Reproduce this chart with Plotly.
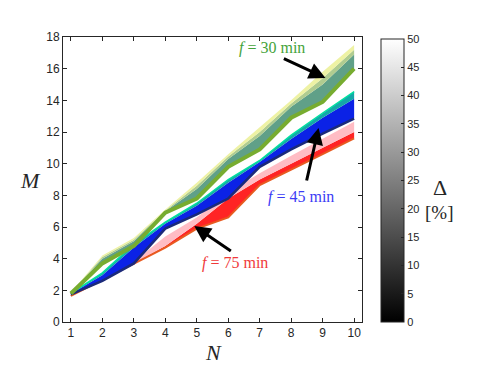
import plotly.graph_objects as go

# data
N = [1, 2, 3, 4, 5, 6, 7, 8, 9, 10]

# f = 75 min band
red_lo = [1.65, 2.65, 3.65, 4.7, 5.9, 6.6, 8.65, 9.6, 10.6, 11.6]
red_mid = [1.7, 2.7, 3.7, 4.8, 6.2, 7.8, 9.0, 10.0, 11.0, 12.0]
red_hi = [1.75, 2.75, 3.8, 5.4, 6.6, 8.2, 9.4, 10.5, 11.6, 12.65]

# f = 45 min band
blue_lo = [1.75, 2.6, 3.7, 5.9, 6.8, 7.8, 9.8, 10.9, 11.9, 12.85]
blue_mid = [1.78, 2.95, 4.7, 6.2, 7.35, 8.8, 10.1, 11.55, 12.9, 14.1]
blue_hi = [1.8, 3.1, 4.9, 6.3, 7.5, 9.0, 10.2, 11.8, 13.2, 14.55]

# f = 30 min band
green_lo = [1.8, 3.7, 4.8, 6.9, 7.8, 9.8, 10.9, 12.9, 13.9, 16.0]
green_m1 = [1.82, 4.0, 5.1, 7.0, 8.4, 10.3, 11.75, 13.6, 15.0, 16.9]
green_m2 = [1.84, 4.1, 5.2, 7.05, 8.6, 10.45, 12.0, 13.8, 15.4, 17.2]
green_hi = [1.85, 4.2, 5.3, 7.1, 8.8, 10.6, 12.3, 14.0, 15.8, 17.5]

delta_range = [0, 50]
cbar_ticks = [0, 5, 10, 15, 20, 25, 30, 35, 40, 45, 50]

fig = go.Figure()


def band(lo, hi, color):
    # filled polygon between two edges
    fig.add_trace(go.Scatter(
        x=N + N[::-1], y=lo + hi[::-1], fill='toself', fillcolor=color,
        mode='lines', line=dict(width=0, color=color),
        hoverinfo='skip', showlegend=False))


def edge(y, color, width):
    fig.add_trace(go.Scatter(x=N, y=y, mode='lines',
                             line=dict(color=color, width=width),
                             hoverinfo='skip', showlegend=False))


band(red_lo, red_mid, '#ff2424')
band(red_mid, red_hi, '#ffbcc4')
edge(red_lo, '#e85a20', 2)

band(blue_lo, blue_mid, '#0b22e6')
band(blue_mid, blue_hi, '#14a8a8')
edge(blue_hi, '#00e0a0', 1.5)
edge(blue_lo, '#1b2a7a', 2.5)

band(green_lo, green_m1, '#60a088')
band(green_m1, green_m2, '#b0cc90')
band(green_m2, green_hi, '#eef2a4')
edge(green_lo, '#77ac30', 4)

# dummy trace for the colour bar
fig.add_trace(go.Scatter(
    x=[None], y=[None], mode='markers', showlegend=False, hoverinfo='skip',
    marker=dict(color=[0], cmin=delta_range[0], cmax=delta_range[1],
                colorscale=[[0, 'black'], [1, 'white']], showscale=True,
                colorbar=dict(x=1.0635, xanchor='left', xpad=0, y=0.4965,
                              yanchor='middle', ypad=0, len=0.993,
                              thickness=23, outlinewidth=1,
                              outlinecolor='#262626', ticks='inside',
                              ticklen=3, tickcolor='#262626',
                              tickvals=cbar_ticks,
                              tickfont=dict(family='Liberation Sans',
                                            size=11, color='#262626')))))

serif = 'Liberation Serif'
ann = []
# arrows
for tail, head in [((7.72, 16.68), (9.09, 15.41)),
                   ((8.48, 8.84), (8.87, 12.25)),
                   ((6.13, 4.42), (4.92, 6.06))]:
    ann.append(dict(x=head[0], y=head[1], ax=tail[0], ay=tail[1],
                    xref='x', yref='y', axref='x', ayref='y', text='',
                    showarrow=True, arrowhead=2, arrowsize=1.1,
                    arrowwidth=3, arrowcolor='black'))
# labels
ann.append(dict(x=7.4, y=17.3, xref='x', yref='y', showarrow=False,
                text='<i>f</i> = 30 min',
                font=dict(family=serif, size=16, color='#44a33a')))
ann.append(dict(x=8.3, y=7.9, xref='x', yref='y', showarrow=False,
                text='<i>f</i> = 45 min',
                font=dict(family=serif, size=16, color='#3b3bf5')))
ann.append(dict(x=6.2, y=3.7, xref='x', yref='y', showarrow=False,
                text='<i>f</i> = 75 min',
                font=dict(family=serif, size=16, color='#f03a3a')))


def paper_text(px, py, text, size):
    # place a text by its centre, given in page pixels
    ann.append(dict(x=(px - 63) / 299, y=(322 - py) / 285, xref='paper',
                    yref='paper', xanchor='center', yanchor='middle',
                    showarrow=False, text=text,
                    font=dict(family=serif, size=size, color='#262626')))


paper_text(213, 353, '<i>N</i>', 22)
paper_text(30, 180, '<i>M</i>', 22)
paper_text(440, 187, 'Δ', 22)
paper_text(439, 212, '[%]', 19)

axis_font = dict(family='Liberation Sans', size=12, color='#262626')
fig.update_layout(
    width=491, height=369,
    # page body has an 8px margin, so the plot box is pulled up/left by 8
    margin=dict(l=55, r=137, t=29, b=55, autoexpand=False),
    plot_bgcolor='white', paper_bgcolor='white',
    annotations=ann,
    xaxis=dict(range=[0.75, 10.25], tickvals=N, ticks='inside', ticklen=4,
               tickcolor='#262626', showline=True, linecolor='#262626',
               mirror='ticks', showgrid=False, zeroline=False,
               tickfont=axis_font),
    yaxis=dict(range=[0, 18], dtick=2, ticks='inside', ticklen=4,
               tickcolor='#262626', showline=True, linecolor='#262626',
               mirror='ticks', showgrid=False, zeroline=False,
               tickfont=axis_font),
)

fig.write_html("out.html")
